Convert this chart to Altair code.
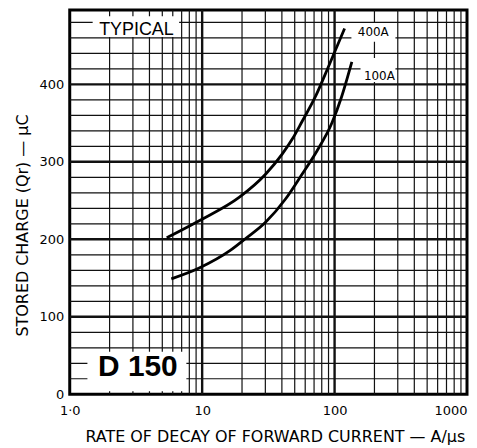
import altair as alt
import pandas as pd

# ---- data ----
rate_400 = [5.4, 9.5, 19.0, 30.1, 40.2, 47.8, 56.8, 71.6, 90, 119]
charge_400 = [202, 224, 254, 284, 310, 329, 352, 384, 423, 472]
rate_100 = [5.85, 9.5, 16.4, 21.3, 30.1, 42.6, 56.8, 73.6, 95.4, 113, 135]
charge_100 = [149, 163, 186, 201, 222, 252, 284, 314, 350, 384, 429]

x_ticks = [1, 10, 100, 1000]
y_ticks = [0, 100, 200, 300, 400]

x_minor = [d * k for d in (1, 10, 100) for k in range(2, 10)]
x_major = [10, 100]
y_minor = [v for v in range(20, 500, 20) if v % 100 != 0]
y_major = [100, 200, 300, 400]

# white label boxes (data coords)
box_x1 = [1.49, 1.36, 134, 157]
box_x2 = [6.7, 7.6, 288, 288]
box_y1 = [461, 4, 455, 403]
box_y2 = [488, 55, 479, 434]

labels = ["TYPICAL", "D 150", "400A", "100A"]
label_x = [3.19, 3.27, 196, 218]
label_y = [470, 34.6, 467, 411]
label_size = [18, 30, 12, 12]
label_weight = ["normal", "bold", "normal", "normal"]
label_font = ["Liberation Sans", "Liberation Sans", "DejaVu Sans", "DejaVu Sans"]

X_TITLE = "RATE OF DECAY OF FORWARD CURRENT — A/μs"
Y_TITLE = "STORED CHARGE (Qr) — μC"

# ---- tables ----
curves = pd.DataFrame({
    "rate": rate_400 + rate_100,
    "charge": charge_400 + charge_100,
    "series": ["400A"] * len(rate_400) + ["100A"] * len(rate_100),
})
vgrid = pd.DataFrame({"v": x_minor + x_major,
                      "w": [1.2] * len(x_minor) + [2.4] * len(x_major)})
hgrid = pd.DataFrame({"v": y_minor + y_major,
                      "w": [1.2] * len(y_minor) + [2.4] * len(y_major)})
boxes = pd.DataFrame({"x1": box_x1, "x2": box_x2, "y1": box_y1, "y2": box_y2})
texts = pd.DataFrame({"t": labels, "x": label_x, "y": label_y})

xs = alt.Scale(type="log", domain=[1, 1000], nice=False)
ys = alt.Scale(domain=[0, 496], nice=False, zero=False)

ax_x = alt.Axis(values=x_ticks, grid=False, ticks=False, domain=False,
                labelExpr="datum.value == 1 ? '1·0' : format(datum.value, 'd')",
                labelAlign={"condition": {"test": "datum.value >= 1000", "value": "right"},
                            "value": "center"},
                labelFlush=False, labelPadding=10, labelFontSize=13,
                labelFont="DejaVu Sans", labelColor="black",
                title=X_TITLE,
                titleFont="DejaVu Sans", titleFontSize=16,
                titleFontWeight="normal", titleColor="black",
                titleX=206, titleY=42, titleBaseline="middle")
ax_y = alt.Axis(values=y_ticks, grid=False, ticks=False, domain=False,
                labelPadding=6, labelFontSize=13, labelFont="DejaVu Sans",
                labelColor="black",
                title=Y_TITLE,
                titleFont="DejaVu Sans", titleFontSize=16,
                titleFontWeight="normal", titleColor="black",
                titleX=-47, titleY=216, titleBaseline="middle",
                titleAlign="center")


def X(field):
    return alt.X(field, scale=xs, axis=ax_x, title=X_TITLE)


def Y(field):
    return alt.Y(field, scale=ys, axis=ax_y, title=Y_TITLE)


vrules = alt.Chart(vgrid).mark_rule(color="#111").encode(
    x=X("v:Q"),
    strokeWidth=alt.StrokeWidth("w:Q", scale=None),
)
hrules = alt.Chart(hgrid).mark_rule(color="#111").encode(
    y=Y("v:Q"),
    strokeWidth=alt.StrokeWidth("w:Q", scale=None),
)
rects = alt.Chart(boxes).mark_rect(fill="white").encode(
    x=X("x1:Q"), x2="x2:Q",
    y=Y("y1:Q"), y2="y2:Q",
)

lines = alt.Chart(curves).mark_line(color="black", strokeWidth=2.8,
                                    interpolate="monotone").encode(
    x=X("rate:Q"),
    y=Y("charge:Q"),
    detail="series:N",
)

text_layers = []
for i in range(len(labels)):
    text_layers.append(
        alt.Chart(texts.iloc[[i]]).mark_text(
            fontSize=label_size[i], fontWeight=label_weight[i],
            font=label_font[i], color="black", baseline="middle", align="center",
        ).encode(
            x=X("x:Q"),
            y=Y("y:Q"),
            text="t:N",
        )
    )

chart = alt.layer(vrules, hrules, rects, lines, *text_layers).properties(
    width=399, height=386,
    autosize=alt.AutoSizeParams(type="none"),
    padding={"left": 62, "top": 1, "right": 2, "bottom": 50},
    background="white",
).configure_view(stroke="black", strokeWidth=3)

chart.save("out.html", embed_options={"renderer": "svg", "actions": False})
